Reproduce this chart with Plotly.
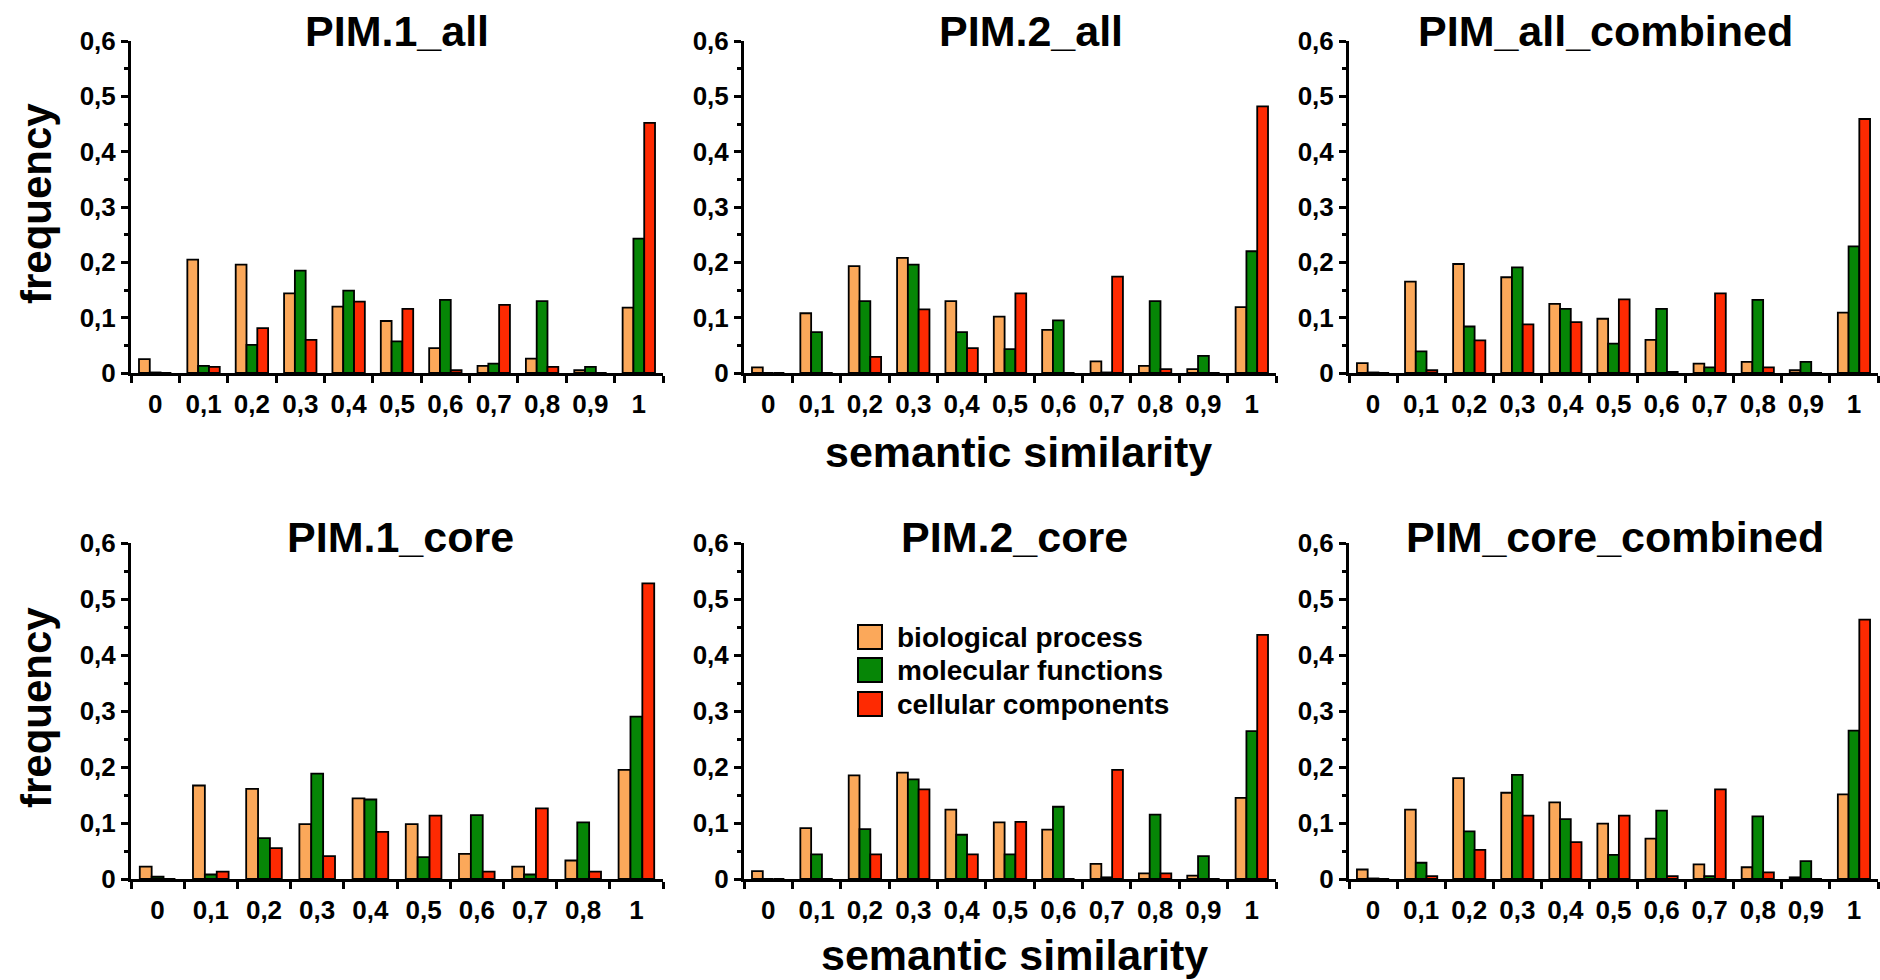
import plotly.graph_objects as go
from plotly.subplots import make_subplots

# ---- categories and tick labels ----
SIM_11 = ["0", "0,1", "0,2", "0,3", "0,4", "0,5", "0,6", "0,7", "0,8", "0,9", "1"]
SIM_10 = ["0", "0,1", "0,2", "0,3", "0,4", "0,5", "0,6", "0,7", "0,8", "1"]
Y_TICKS = [0, 0.1, 0.2, 0.3, 0.4, 0.5, 0.6]
Y_TICK_TEXT = ["0", "0,1", "0,2", "0,3", "0,4", "0,5", "0,6"]

SERIES = ["biological process", "molecular functions", "cellular components"]
COLORS = ["#FBA85A", "#068606", "#FE2A02"]

# ---- frequencies per panel ----
pim1_all_bp = [0.025, 0.205, 0.196, 0.144, 0.120, 0.094, 0.045, 0.013, 0.026, 0.005, 0.118]
pim1_all_mf = [0.001, 0.013, 0.051, 0.185, 0.149, 0.057, 0.132, 0.017, 0.130, 0.011, 0.243]
pim1_all_cc = [0.0, 0.011, 0.081, 0.060, 0.129, 0.116, 0.005, 0.123, 0.011, 0.0, 0.452]

pim2_all_bp = [0.010, 0.108, 0.193, 0.208, 0.130, 0.102, 0.078, 0.021, 0.013, 0.007, 0.119]
pim2_all_mf = [0.0, 0.074, 0.130, 0.196, 0.074, 0.043, 0.095, 0.001, 0.130, 0.031, 0.220]
pim2_all_cc = [0.0, 0.0, 0.029, 0.115, 0.045, 0.144, 0.0, 0.174, 0.007, 0.0, 0.482]

all_comb_bp = [0.018, 0.165, 0.197, 0.173, 0.125, 0.098, 0.060, 0.017, 0.020, 0.005, 0.109]
all_comb_mf = [0.001, 0.039, 0.084, 0.191, 0.116, 0.053, 0.116, 0.010, 0.132, 0.020, 0.229]
all_comb_cc = [0.0, 0.005, 0.059, 0.088, 0.092, 0.133, 0.002, 0.144, 0.010, 0.0, 0.459]

pim1_core_bp = [0.022, 0.167, 0.161, 0.098, 0.144, 0.098, 0.045, 0.022, 0.033, 0.195]
pim1_core_mf = [0.004, 0.008, 0.073, 0.188, 0.142, 0.039, 0.114, 0.008, 0.101, 0.290]
pim1_core_cc = [0.0, 0.013, 0.055, 0.041, 0.084, 0.113, 0.013, 0.126, 0.013, 0.528]

pim2_core_bp = [0.014, 0.091, 0.185, 0.190, 0.124, 0.101, 0.088, 0.027, 0.010, 0.006, 0.145]
pim2_core_mf = [0.0, 0.044, 0.089, 0.178, 0.079, 0.044, 0.129, 0.003, 0.115, 0.041, 0.264]
pim2_core_cc = [0.0, 0.0, 0.044, 0.160, 0.044, 0.102, 0.0, 0.195, 0.010, 0.0, 0.436]

core_comb_bp = [0.017, 0.124, 0.180, 0.154, 0.137, 0.099, 0.072, 0.026, 0.021, 0.003, 0.151]
core_comb_mf = [0.001, 0.029, 0.085, 0.186, 0.107, 0.043, 0.122, 0.005, 0.112, 0.032, 0.265]
core_comb_cc = [0.0, 0.005, 0.052, 0.113, 0.066, 0.113, 0.005, 0.160, 0.012, 0.0, 0.463]

PANEL_TITLES = ["PIM.1_all", "PIM.2_all", "PIM_all_combined",
                "PIM.1_core", "PIM.2_core", "PIM_core_combined"]
PANEL_CATS = [SIM_11, SIM_11, SIM_11, SIM_10, SIM_11, SIM_11]
PANEL_VALUES = [
    [pim1_all_bp, pim1_all_mf, pim1_all_cc],
    [pim2_all_bp, pim2_all_mf, pim2_all_cc],
    [all_comb_bp, all_comb_mf, all_comb_cc],
    [pim1_core_bp, pim1_core_mf, pim1_core_cc],
    [pim2_core_bp, pim2_core_mf, pim2_core_cc],
    [core_comb_bp, core_comb_mf, core_comb_cc],
]

# ---- layout geometry (pixels) ----
W, H = 1880, 980
COL_PX = [(131, 663), (744, 1276), (1349, 1878)]
ROW_PX = [(41, 373), (543, 879)]          # (top of 0.6, baseline) for each row
TITLE_POS = [(397, 31), (1031, 31), (1605, 31), (400, 537), (1014, 537), (1615, 537)]

FONT = "Liberation Sans, Arial, Helvetica, sans-serif"


def px_x(x):
    return x / W


def px_y(y):
    return 1 - y / H


fig = make_subplots(rows=2, cols=3)

for i, (cats, vals) in enumerate(zip(PANEL_CATS, PANEL_VALUES)):
    r, c = i // 3 + 1, i % 3 + 1
    for name, v, color in zip(SERIES, vals, COLORS):
        fig.add_trace(
            go.Bar(x=cats, y=v, name=name, showlegend=False,
                   marker=dict(color=color, line=dict(color="black", width=1.8))),
            row=r, col=c)

for i in range(6):
    r, c = i // 3, i % 3
    n = "" if i == 0 else str(i + 1)
    x0, x1 = COL_PX[c]
    ytop, ybase = ROW_PX[r]
    fig.layout["xaxis" + n].update(
        domain=[px_x(x0), px_x(x1)], type="category", automargin=False,
        showline=True, linecolor="black", linewidth=3,
        ticks="outside", tickson="boundaries", ticklen=7, tickwidth=3, tickcolor="black",
        showgrid=False, zeroline=False,
        tickfont=dict(family=FONT, size=26, color="black", weight="bold"),
        ticklabelstandoff=6,
    )
    fig.layout["yaxis" + n].update(
        domain=[px_y(ybase), px_y(ytop)], range=[0, 0.6], automargin=False,
        tickvals=Y_TICKS, ticktext=Y_TICK_TEXT,
        showline=True, linecolor="black", linewidth=3,
        ticks="outside", ticklen=7, tickwidth=3, tickcolor="black",
        minor=dict(dtick=0.05, ticks="outside", ticklen=4, tickwidth=3, tickcolor="black"),
        showgrid=False, zeroline=False,
        tickfont=dict(family=FONT, size=26, color="black", weight="bold"),
    )

annotations = []
for title, (tx, ty) in zip(PANEL_TITLES, TITLE_POS):
    annotations.append(dict(
        text=title, x=px_x(tx), y=px_y(ty), xref="paper", yref="paper",
        xanchor="center", yanchor="middle", showarrow=False,
        font=dict(family=FONT, size=43, color="black", weight="bold")))

# axis titles
for cy in (204, 708):
    annotations.append(dict(
        text="frequency", x=px_x(36), y=px_y(cy), xref="paper", yref="paper",
        xanchor="center", yanchor="middle", textangle=-90, showarrow=False,
        font=dict(family=FONT, size=42, color="black", weight="bold")))
for cx, cy in ((1018, 452), (1014, 955)):
    annotations.append(dict(
        text="semantic similarity", x=px_x(cx), y=px_y(cy), xref="paper", yref="paper",
        xanchor="center", yanchor="middle", showarrow=False,
        font=dict(family=FONT, size=43, color="black", weight="bold")))

# legend block
shapes = []
LEG_X0, LEG_SW, LEG_TX = 858, 24, 895
LEG_ROWS = [637, 670, 704]
for name, color, cy in zip(SERIES, COLORS, LEG_ROWS):
    shapes.append(dict(
        type="rect", xref="paper", yref="paper",
        x0=px_x(LEG_X0), x1=px_x(LEG_X0 + LEG_SW),
        y0=px_y(cy + LEG_SW / 2), y1=px_y(cy - LEG_SW / 2),
        fillcolor=color, line=dict(color="black", width=2)))
    annotations.append(dict(
        text=name, x=px_x(LEG_TX), y=px_y(cy), xref="paper", yref="paper",
        xanchor="left", yanchor="middle", showarrow=False,
        font=dict(family=FONT, size=28, color="black", weight="bold")))

fig.update_layout(
    template="none",
    width=W, height=H, autosize=False, margin=dict(l=0, r=0, t=0, b=0, pad=0),
    paper_bgcolor="white", plot_bgcolor="white",
    barmode="group", bargap=0.33, bargroupgap=0,
    annotations=annotations, shapes=shapes,
    showlegend=False,
)

fig.write_html("out.html")
